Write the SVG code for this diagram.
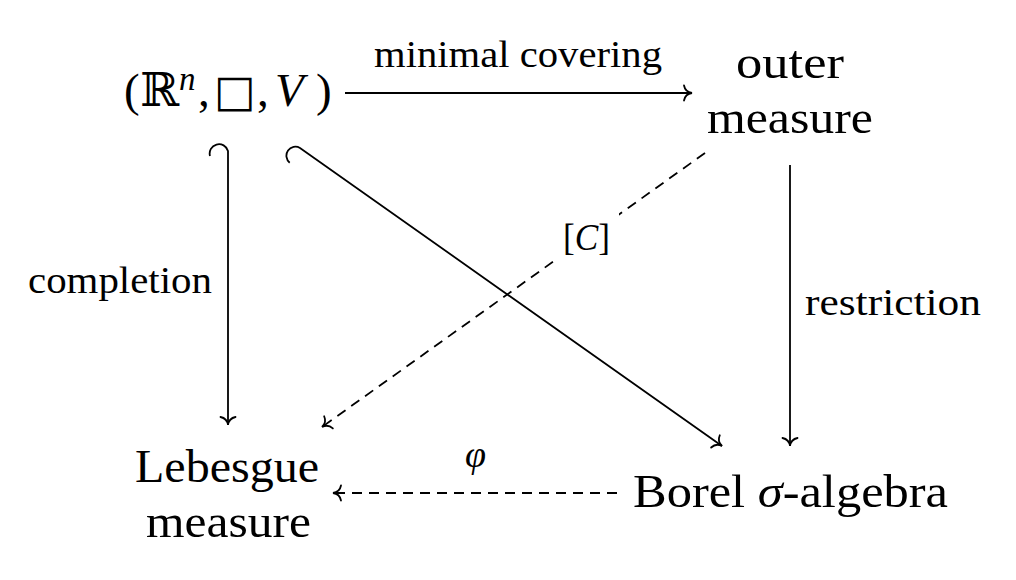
<svg xmlns="http://www.w3.org/2000/svg" width="1016" height="580" viewBox="0 0 1016 580">
<style>
text{font-family:"Liberation Serif","DejaVu Serif",serif;fill:#000}
.big{font-size:47px}
.lab{font-size:38px}
.it{font-style:italic}
.ln{fill:none;stroke:#000;stroke-width:1.8}
.dash{stroke-dasharray:10 7}
</style>
<defs>
<marker id="to" viewBox="-10 -9 12 18" markerWidth="12" markerHeight="18" refX="0" refY="0" orient="auto" markerUnits="userSpaceOnUse">
<path d="M-8,-7.5 C-7,-2.5 -3,-0.4 0,0 C-3,0.4 -7,2.5 -8,7.5" fill="none" stroke="#000" stroke-width="1.8" stroke-linecap="round"/>
</marker>
</defs>
<rect width="1016" height="580" fill="#fff"/>
<g id="connectors">
<path class="ln" d="M345,93 L692,93" marker-end="url(#to)"/>
<path class="ln" d="M210,156 A9,9 0 0 1 228,151 L228,425" marker-end="url(#to)"/>
<path class="ln" d="M289.7,162.7 A9,9 0 0 1 300,148 L722,446" marker-end="url(#to)"/>
<path class="ln" d="M790,165 L790,446" marker-end="url(#to)"/>
<path class="ln dash" d="M705,153 L322,427" marker-end="url(#to)"/>
<path class="ln dash" d="M617,493 L333,493" marker-end="url(#to)"/>
<text class="lab" x="374" y="67" textLength="288" lengthAdjust="spacingAndGlyphs">minimal covering</text>
<text class="lab" x="28" y="293" textLength="184" lengthAdjust="spacingAndGlyphs">completion</text>
<text class="lab" x="805" y="315" textLength="176" lengthAdjust="spacingAndGlyphs">restriction</text>
<g id="label-C">
<rect x="555" y="210" width="64" height="58" fill="#fff"/>
<text class="lab" x="563" y="250" textLength="47" lengthAdjust="spacingAndGlyphs">[<tspan class="it">C</tspan>]</text>
</g>
<text class="lab it" x="465" y="467">φ</text>
</g>
<g id="n-rvn">
<text class="big" y="106"><tspan x="124">(</tspan><tspan x="140">ℝ</tspan><tspan x="179" y="90" class="it" font-size="33">n</tspan><tspan x="198" y="106">,</tspan><tspan x="214" font-family="DejaVu Sans" font-size="44">□</tspan><tspan x="257">,</tspan><tspan x="275" class="it">V</tspan><tspan x="316">)</tspan></text>
</g>
<g id="n-outer">
<text class="big" x="736" y="78" textLength="108" lengthAdjust="spacingAndGlyphs">outer</text>
<text class="big" x="707" y="133" textLength="166" lengthAdjust="spacingAndGlyphs">measure</text>
</g>
<g id="n-lebesgue">
<text class="big" x="135" y="482" textLength="184" lengthAdjust="spacingAndGlyphs">Lebesgue</text>
<text class="big" x="146" y="537" textLength="165" lengthAdjust="spacingAndGlyphs">measure</text>
</g>
<g id="n-borel">
<text class="big" x="633" y="507" textLength="315" lengthAdjust="spacingAndGlyphs">Borel <tspan class="it">σ</tspan>-algebra</text>
</g>
</svg>
